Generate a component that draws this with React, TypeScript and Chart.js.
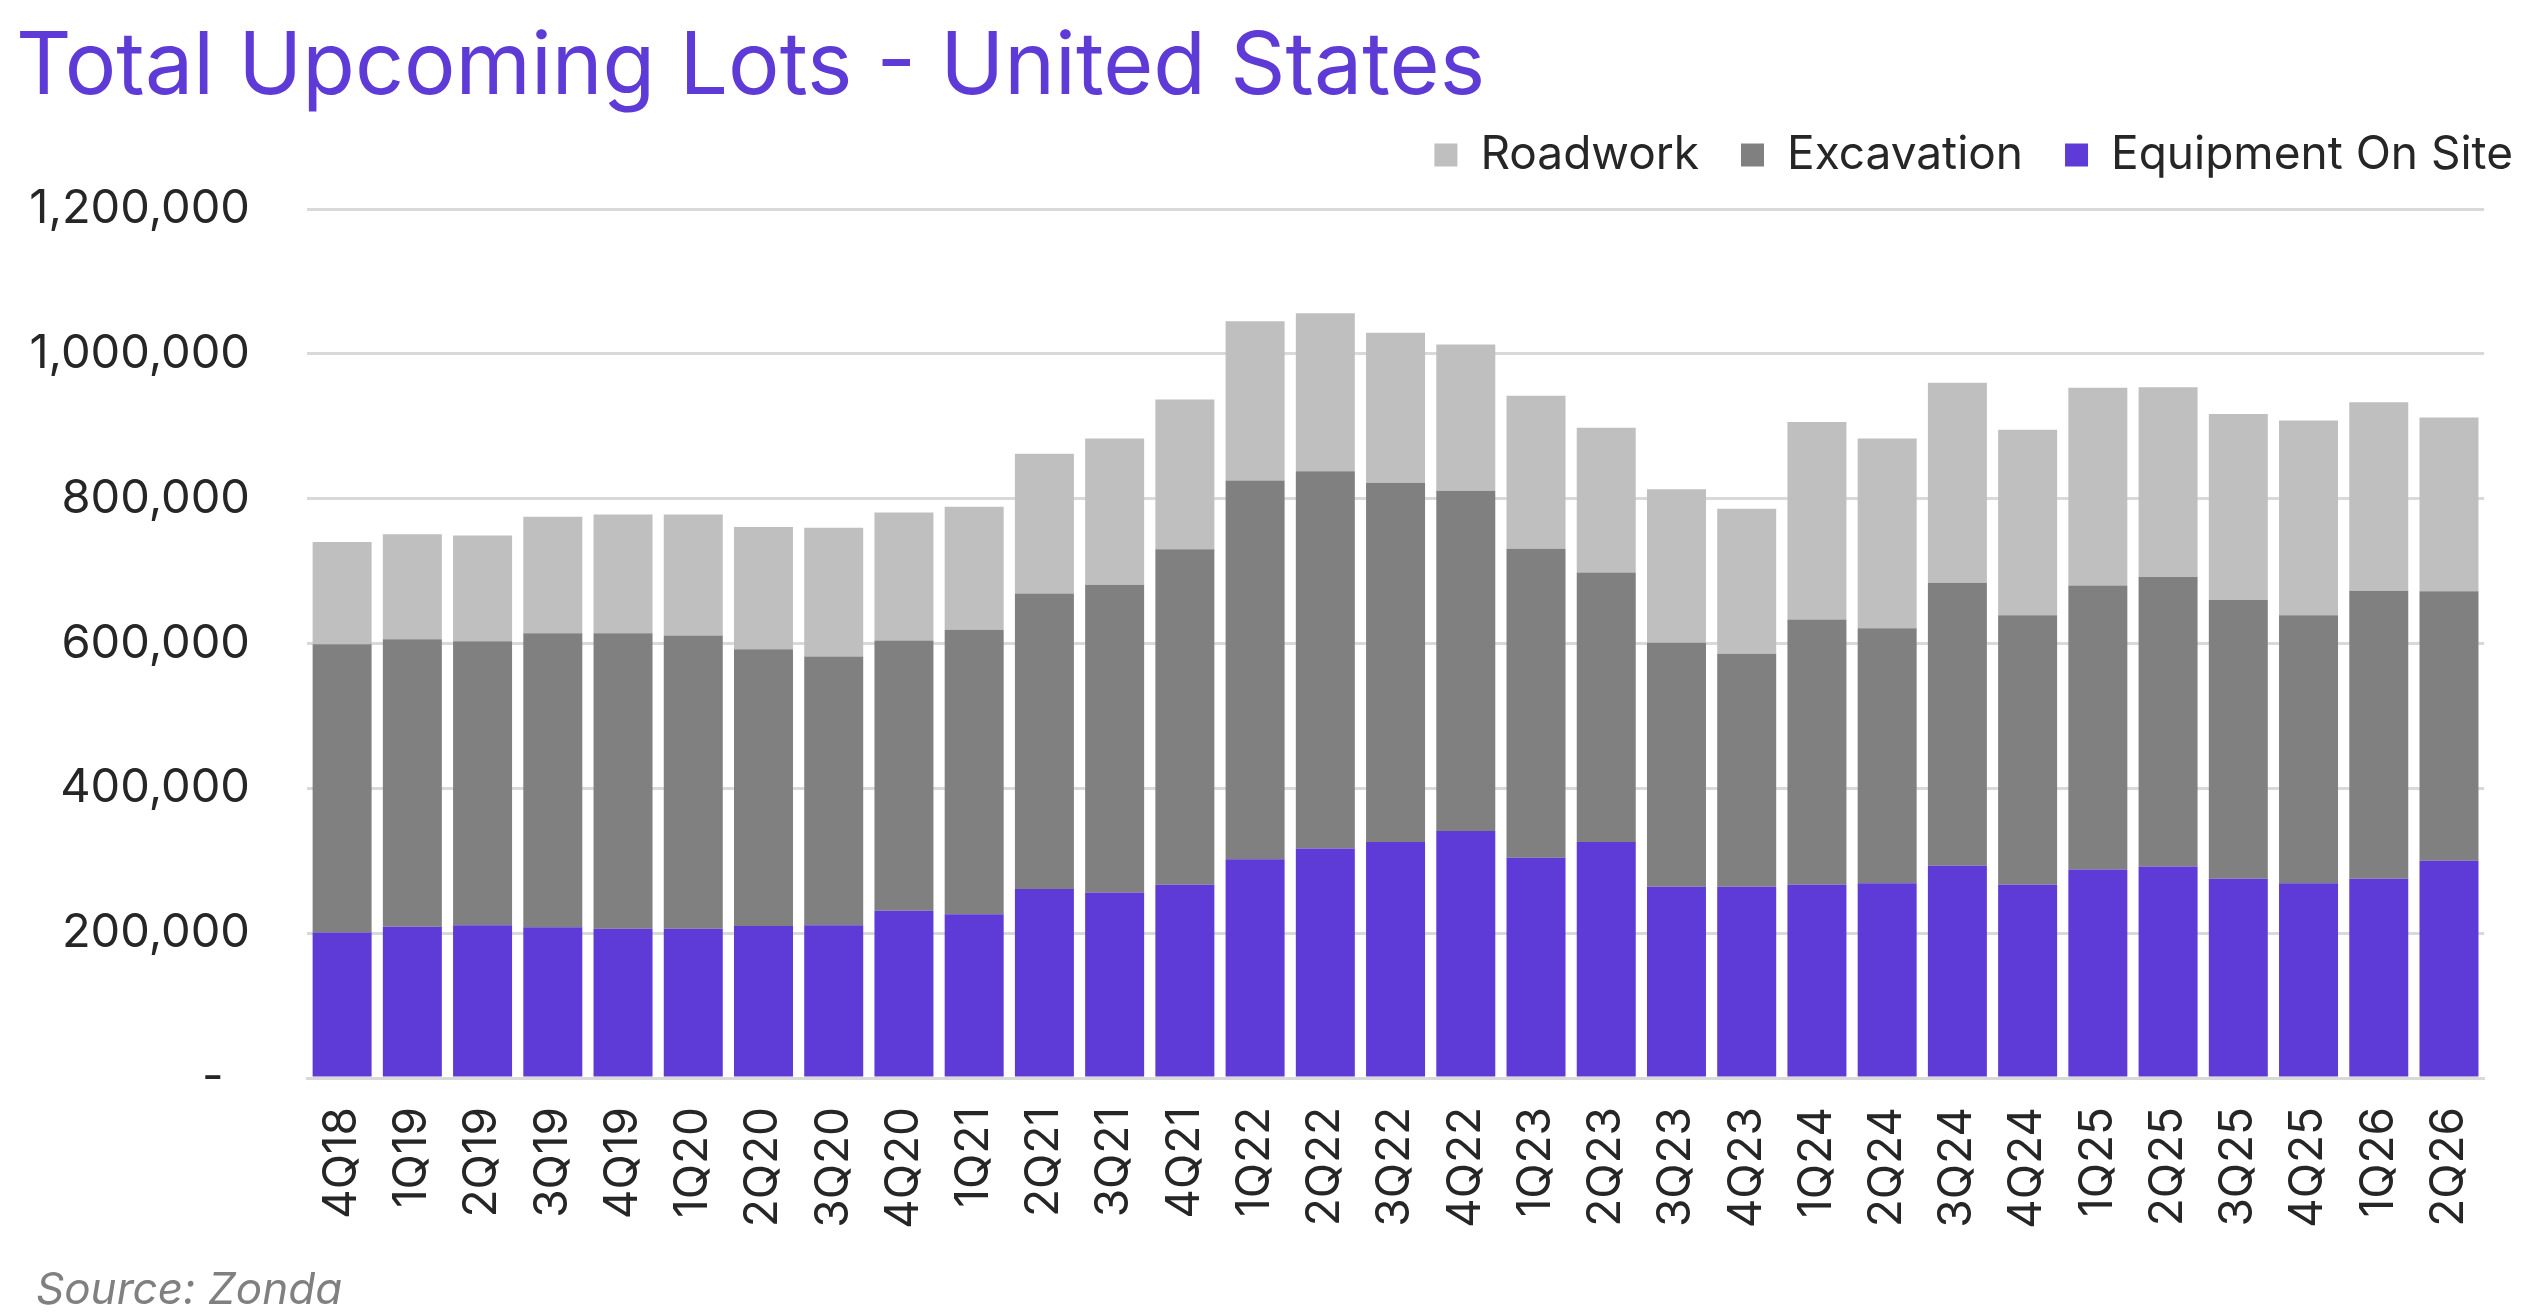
import { useEffect, useRef } from "react"
import { Chart, registerables } from "chart.js"

Chart.register(...registerables)

const quarters = [
  "4Q18", "1Q19", "2Q19", "3Q19", "4Q19", "1Q20", "2Q20", "3Q20", "4Q20", "1Q21",
  "2Q21", "3Q21", "4Q21", "1Q22", "2Q22", "3Q22", "4Q22", "1Q23", "2Q23", "3Q23",
  "4Q23", "1Q24", "2Q24", "3Q24", "4Q24", "1Q25", "2Q25", "3Q25", "4Q25", "1Q26", "2Q26",
]

// 単位: ロット数
const equipmentOnSite = [
  201000, 209000, 211000, 208000, 206000, 206000, 210000, 211000, 231000, 226000,
  261000, 256000, 267000, 302000, 317000, 326000, 341000, 304000, 326000, 264000,
  264000, 267000, 269000, 293000, 267000, 288000, 292000, 275000, 269000, 275000, 300000,
]

const excavation = [
  398000, 397000, 392000, 406000, 408000, 405000, 382000, 371000, 373000, 393000,
  408000, 425000, 463000, 523000, 521000, 496000, 470000, 427000, 372000, 337000,
  322000, 366000, 352000, 391000, 372000, 392000, 400000, 385000, 370000, 398000, 372000,
]

const roadwork = [
  141000, 145000, 146000, 161000, 164000, 167000, 169000, 178000, 177000, 170000,
  193000, 202000, 207000, 220000, 218000, 207000, 202000, 211000, 200000, 212000,
  200000, 273000, 262000, 276000, 256000, 273000, 262000, 257000, 269000, 260000, 240000,
]

const PURPLE = "#5e3ad7"
const DARK_GRAY = "#808080"
const LIGHT_GRAY = "#bfbfbf"
const GRID = "#d9d9d9"
const TEXT = "#262626"
const FONT = "Inter"

// 見えない軸で余白を確保する
const spacerAxis = (size: number) => ({
  display: true,
  grid: { display: false, drawTicks: false },
  border: { display: false },
  ticks: { display: false },
  afterFit: (scale: any) => {
    if (scale.isHorizontal()) {
      scale.height = size
    } else {
      scale.width = size
    }
  },
})

function UpcomingLotsChart() {
  const canvasRef = useRef<HTMLCanvasElement>(null)
  const chartRef = useRef<Chart | null>(null)

  useEffect(() => {
    if (!canvasRef.current) return

    if (chartRef.current) {
      chartRef.current.destroy()
    }

    const ctx = canvasRef.current.getContext("2d")
    if (!ctx) return

    chartRef.current = new Chart(ctx, {
      type: "bar",
      data: {
        labels: quarters,
        datasets: [
          { label: "Equipment On Site", data: equipmentOnSite, backgroundColor: PURPLE },
          { label: "Excavation", data: excavation, backgroundColor: DARK_GRAY },
          { label: "Roadwork", data: roadwork, backgroundColor: LIGHT_GRAY },
        ],
      },
      options: {
        animation: false,
        responsive: true,
        maintainAspectRatio: false,
        devicePixelRatio: 1,
        layout: {
          padding: { top: 90, right: -21, bottom: 0, left: 0 },
        },
        datasets: {
          bar: {
            categoryPercentage: 1,
            barPercentage: 0.84,
            borderWidth: 0,
          },
        },
        plugins: {
          legend: {
            position: "top",
            align: "end",
            reverse: true,
            labels: {
              boxWidth: 23,
              boxHeight: 23,
              padding: 42,
              color: TEXT,
              font: { family: FONT, size: 46 },
            },
          },
          tooltip: { enabled: false },
        },
        scales: {
          x: {
            stacked: true,
            grid: { display: false, drawTicks: false },
            border: { display: true, color: GRID, width: 3 },
            ticks: {
              minRotation: 90,
              maxRotation: 90,
              autoSkip: false,
              padding: 29,
              color: TEXT,
              font: { family: FONT, size: 46 },
            },
            afterFit: (scale) => {
              scale.height = 238
            },
          },
          y: {
            stacked: true,
            min: 0,
            max: 1200000,
            grid: { color: GRID, lineWidth: 3, drawTicks: false },
            border: { display: false },
            ticks: {
              stepSize: 200000,
              padding: 57,
              color: TEXT,
              font: { family: FONT, size: 47 },
              callback: (value) => (Number(value) === 0 ? "-  " : Number(value).toLocaleString("en-US")),
            },
            afterFit: (scale) => {
              scale.width = 307
            },
          },
          spacerRight: { axis: "y", position: "right", ...spacerAxis(55) },
          spacerTop: { axis: "x", position: "top", ...spacerAxis(21) },
        },
      },
    })

    return () => {
      if (chartRef.current) {
        chartRef.current.destroy()
      }
    }
  }, [])

  return <canvas ref={canvasRef} />
}

export default function App() {
  return (
    <div style={{ position: "fixed", left: 0, top: 0, width: 2534, height: 1316, background: "#fff" }}>
      <div
        style={{
          position: "absolute",
          left: 16,
          top: 20,
          fontFamily: FONT,
          fontSize: 86,
          lineHeight: 1,
          color: PURPLE,
          whiteSpace: "nowrap",
        }}
      >
        Total Upcoming Lots - United States
      </div>
      <div style={{ position: "absolute", left: 0, top: 0, width: 2534, height: 1316 }}>
        <UpcomingLotsChart />
      </div>
      <div
        style={{
          position: "absolute",
          left: 36,
          top: 1266,
          fontFamily: FONT,
          fontSize: 44,
          lineHeight: 1,
          fontStyle: "italic",
          color: DARK_GRAY,
          whiteSpace: "nowrap",
        }}
      >
        Source: Zonda
      </div>
    </div>
  )
}
